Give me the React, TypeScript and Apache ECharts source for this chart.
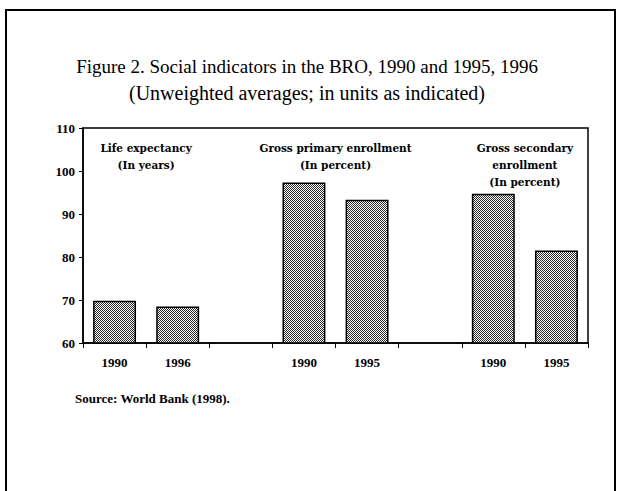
import React, { useEffect, useRef } from "react";
import * as echarts from "echarts";

const categories = ["1990", "1996", "", "1990", "1995", "", "1990", "1995"];
const values: (number | null)[] = [69.8, 68.5, null, 97.3, 93.3, null, 94.7, 81.5];
const yMin = 60;
const yMax = 110;
const yInterval = 10;
const groupLabels = [
  ["Life expectancy", "(In years)"],
  ["Gross primary enrollment", "(In percent)"],
  ["Gross secondary", "enrollment", "(In percent)"],
];
const groupPairs = [[0, 1], [3, 4], [6, 7]];
const titleText = "Figure 2. Social indicators in the BRO, 1990 and 1995, 1996";
const subtitleText = "(Unweighted averages; in units as indicated)";
const sourceText = "Source: World Bank (1998).";

const SERIF = "'Liberation Serif', 'Times New Roman', serif";

function makePattern() {
  const c = document.createElement("canvas");
  c.width = 2;
  c.height = 2;
  const ctx = c.getContext("2d")!;
  ctx.fillStyle = "#ffffff";
  ctx.fillRect(0, 0, 2, 2);
  ctx.fillStyle = "#2a2a2a";
  ctx.fillRect(0, 0, 1, 1);
  ctx.fillRect(1, 1, 1, 1);
  return c;
}

export default function App() {
  const ref = useRef<HTMLDivElement>(null);
  useEffect(() => {
    if (!ref.current) return;
    const chart = echarts.init(ref.current, null, { renderer: "svg" });
    const pattern = makePattern();
    chart.setOption({
      animation: false,
      backgroundColor: "#ffffff",
      grid: {
        left: 83,
        right: 30,
        top: 128,
        bottom: 148,
        show: true,
        borderColor: "#000",
        borderWidth: 1.5,
        backgroundColor: "transparent",
      },
      xAxis: {
        type: "category",
        data: categories,
        boundaryGap: true,
        axisLine: { show: true, lineStyle: { color: "#000", width: 1.5 } },
        axisTick: { show: true, alignWithLabel: false, interval: 0, length: 5, lineStyle: { color: "#000", width: 1 } },
        axisLabel: {
          interval: 0,
          margin: 13,
          color: "#000",
          fontFamily: SERIF,
          fontWeight: "bold",
          fontSize: 13,
        },
        splitLine: { show: false },
      },
      yAxis: {
        type: "value",
        min: yMin,
        max: yMax,
        interval: yInterval,
        axisLine: { show: true, lineStyle: { color: "#000", width: 1.5 } },
        axisTick: { show: true, length: 4, lineStyle: { color: "#000", width: 1 } },
        axisLabel: {
          margin: 8,
          color: "#000",
          fontFamily: SERIF,
          fontWeight: "bold",
          fontSize: 13,
        },
        splitLine: { show: false },
      },
      series: [
        {
          type: "bar",
          data: values,
          barWidth: "68%",
          itemStyle: {
            color: { image: pattern, repeat: "repeat" },
            borderColor: "#000",
            borderWidth: 1.5,
          },
        },
      ],
    });

    const topY = chart.convertToPixel({ yAxisIndex: 0 }, yMax) as number;
    const graphics: any[] = [
      {
        type: "rect",
        shape: { x: 6, y: 10, width: 609, height: 520 },
        style: { fill: "none", stroke: "#000", lineWidth: 2 },
        silent: true,
      },
      {
        type: "text",
        x: 307,
        y: 66,
        style: { text: titleText, font: `19px ${SERIF}`, fill: "#000", textAlign: "center", textVerticalAlign: "middle" },
      },
      {
        type: "text",
        x: 307,
        y: 93,
        style: { text: subtitleText, font: `20px ${SERIF}`, fill: "#000", textAlign: "center", textVerticalAlign: "middle" },
      },
      {
        type: "text",
        x: 75,
        y: 398,
        style: { text: sourceText, font: `bold 13px ${SERIF}`, fill: "#000", textAlign: "left", textVerticalAlign: "middle" },
      },
    ];
    groupLabels.forEach((lines, gi) => {
      const [a, b] = groupPairs[gi];
      const xa = chart.convertToPixel({ xAxisIndex: 0 }, a) as number;
      const xb = chart.convertToPixel({ xAxisIndex: 0 }, b) as number;
      const cx = (xa + xb) / 2;
      lines.forEach((t, li) => {
        graphics.push({
          type: "text",
          x: cx,
          y: topY + 20 + li * 17,
          style: {
            text: t,
            font: `bold 10.5px 'DejaVu Serif', serif`,
            fill: "#000",
            textAlign: "center",
            textVerticalAlign: "middle",
          },
        });
      });
    });
    chart.setOption({ graphic: graphics });
    return () => chart.dispose();
  }, []);
  return (
    <div
      ref={ref}
      style={{ position: "absolute", left: 0, top: 0, width: 618, height: 491, background: "#fff" }}
    />
  );
}
